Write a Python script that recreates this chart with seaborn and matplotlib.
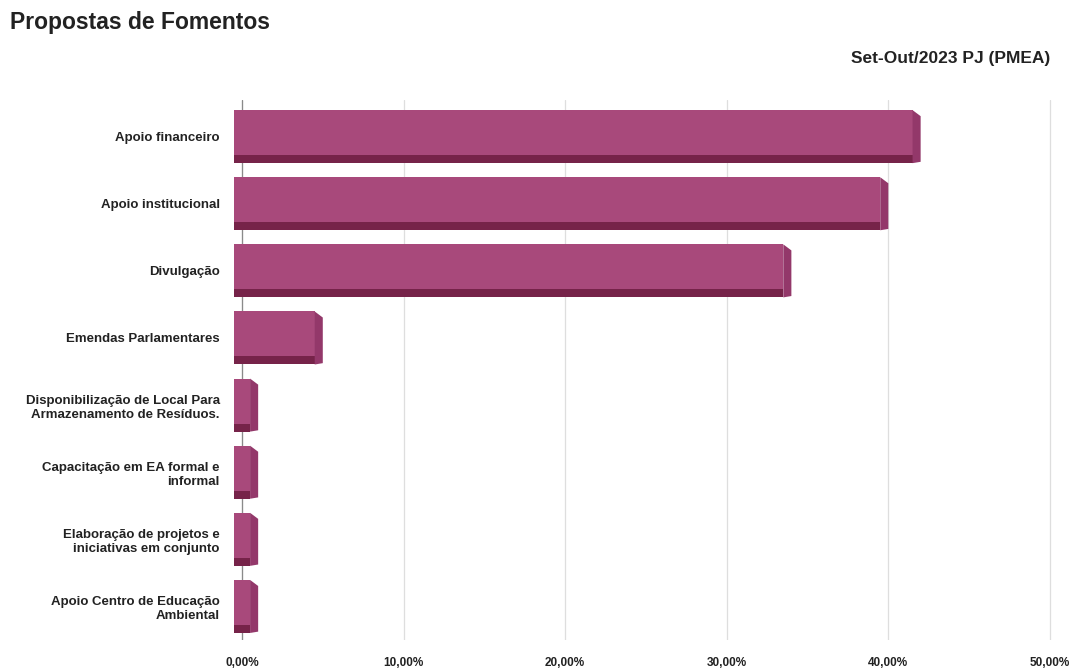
import matplotlib
matplotlib.use("Agg")
import matplotlib.pyplot as plt
from matplotlib.patches import Polygon, Rectangle
import seaborn as sns
import pandas as pd

categories = [
    "Apoio financeiro",
    "Apoio institucional",
    "Divulgação",
    "Emendas Parlamentares",
    "Disponibilização de Local Para\nArmazenamento de Resíduos.",
    "Capacitação em EA formal e\ninformal",
    "Elaboração de projetos e\niniciativas em conjunto",
    "Apoio Centro de Educação\nAmbiental",
]
values = [42.0, 40.0, 34.0, 5.0, 1.0, 1.0, 1.0, 1.0]
tick_values = [0, 10, 20, 30, 40, 50]
tick_labels = ["0,00%", "10,00%", "20,00%", "30,00%", "40,00%", "50,00%"]

title = "Propostas de Fomentos"
subtitle = "Set-Out/2023 PJ (PMEA)"

face = "#a8497b"
shade = "#762349"
cap = "#93386a"

sns.set_theme(style="white")
plt.rcParams["font.family"] = ["Liberation Sans", "DejaVu Sans"]

df = pd.DataFrame({"categoria": categories, "valor": values})

fig = plt.figure(figsize=(10.73, 6.72), dpi=100)
ax = fig.add_axes([0.2165, 0.0476, 0.768, 0.804])

sns.barplot(data=df, x="valor", y="categoria", orient="h", color=face,
            saturation=1, width=0.79, ax=ax)

# 3-D look: the front face sits a little to the left of the value,
# with a darker lower strip and a slanted end cap reaching the value
depth_x = 0.5
depth_y = 0.12
for p in ax.patches[:len(values)]:
    p.set_edgecolor("none")
    p.set_zorder(3)
    x0, y0 = p.get_x(), p.get_y()
    w, h = p.get_width(), p.get_height()
    p.set_x(x0 - depth_x)
    front_end = x0 + w - depth_x
    bottom = y0 + h
    ax.add_patch(Rectangle((x0 - depth_x, bottom - depth_y), w, depth_y,
                           facecolor=shade, edgecolor="none", zorder=4))
    ax.add_patch(Polygon([(front_end, y0), (x0 + w, y0 + 0.09),
                          (x0 + w, bottom - 0.02), (front_end, bottom)],
                         closed=True, facecolor=cap, edgecolor="none", zorder=4))

ax.set_xlim(-0.6, 50.4)
ax.set_ylim(7.5, -0.55)
ax.set_xticks(tick_values)
ax.set_xticklabels(tick_labels, fontsize=8.5, fontweight="bold", color="#222222")
ax.tick_params(axis="x", length=9, color="#d9d9d9", width=0.8, pad=3, direction="out")
ax.tick_params(axis="y", length=0, pad=9)
for lbl in ax.get_yticklabels():
    lbl.set_fontsize(9.5)
    lbl.set_fontweight("bold")
    lbl.set_color("#222222")
    lbl.set_linespacing(1.25)

ax.grid(axis="x", color="#dedede", linewidth=0.9, zorder=0)
ax.axvline(0, color="#8a8a8a", linewidth=0.9, zorder=1)
ax.set_axisbelow(True)
for s in ax.spines.values():
    s.set_visible(False)
ax.set_xlabel("")
ax.set_ylabel("")

fig.text(0.009, 0.967, title, fontsize=16.5, fontweight="bold", color="#222222",
         va="center", ha="left")
fig.text(0.979, 0.913, subtitle, fontsize=12.5, fontweight="bold", color="#222222",
         va="center", ha="right")

fig.savefig("out.png", dpi=100, facecolor="white")
